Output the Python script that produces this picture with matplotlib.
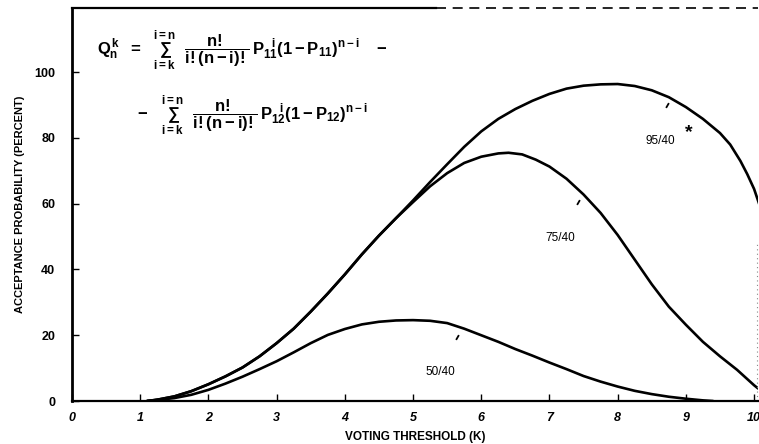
import matplotlib
matplotlib.use("Agg")
import matplotlib.pyplot as plt

plt.rcParams["font.family"] = ["Liberation Sans", "DejaVu Sans"]
plt.rcParams["mathtext.fontset"] = "custom"
plt.rcParams["mathtext.rm"] = "Liberation Sans:bold"
plt.rcParams["mathtext.it"] = "Liberation Sans:bold"
plt.rcParams["mathtext.bf"] = "Liberation Sans:bold"

# Acceptance probability (percent) versus voting threshold K
k_95 = [1.1, 1.25, 1.5, 1.75, 2.0, 2.25, 2.5, 2.75, 3.0, 3.25, 3.5, 3.75, 4.0,
        4.25, 4.5, 4.75, 5.0, 5.25, 5.5, 5.75, 6.0, 6.25, 6.5, 6.75, 7.0, 7.25,
        7.5, 7.75, 8.0, 8.25, 8.5, 8.75, 9.0, 9.25, 9.5, 9.65, 9.8, 9.9, 10.0, 10.09]
q_95 = [0.0, 0.4, 1.4, 3.0, 5.1, 7.5, 10.2, 13.6, 17.6, 22.0, 27.2, 32.7, 38.5,
        44.6, 50.3, 55.6, 61.0, 66.6, 72.0, 77.3, 82.0, 85.8, 88.8, 91.3, 93.4, 95.0,
        95.9, 96.3, 96.4, 95.8, 94.5, 92.4, 89.4, 85.8, 81.5, 78.0, 73.0, 69.0, 64.5, 59.0]

k_75 = [1.1, 1.25, 1.5, 1.75, 2.0, 2.25, 2.5, 2.75, 3.0, 3.25, 3.5, 3.75, 4.0,
        4.25, 4.5, 4.75, 5.0, 5.25, 5.5, 5.75, 6.0, 6.25, 6.4, 6.6, 6.8, 7.0,
        7.25, 7.5, 7.75, 8.0, 8.25, 8.5, 8.75, 9.0, 9.25, 9.5, 9.75, 10.0, 10.06]
q_75 = [0.0, 0.4, 1.4, 3.0, 5.1, 7.5, 10.2, 13.6, 17.6, 22.0, 27.2, 32.7, 38.5,
        44.6, 50.3, 55.6, 60.5, 65.3, 69.3, 72.4, 74.3, 75.3, 75.5, 75.0, 73.4, 71.3,
        67.6, 62.8, 57.2, 50.5, 43.0, 35.5, 28.7, 23.2, 18.0, 13.6, 9.5, 4.8, 3.8]

k_50 = [1.1, 1.25, 1.5, 1.75, 2.0, 2.25, 2.5, 2.75, 3.0, 3.25, 3.5, 3.75, 4.0,
        4.25, 4.5, 4.75, 5.0, 5.25, 5.5, 5.75, 6.0, 6.25, 6.5, 6.75, 7.0, 7.25,
        7.5, 7.75, 8.0, 8.25, 8.5, 8.75, 9.0, 9.25, 9.4]
q_50 = [0.0, 0.3, 0.9, 1.9, 3.4, 5.3, 7.4, 9.7, 12.1, 14.8, 17.6, 20.1, 21.9,
        23.3, 24.1, 24.5, 24.6, 24.4, 23.7, 22.0, 20.0, 18.0, 15.8, 13.8, 11.7, 9.7,
        7.6, 5.9, 4.4, 3.1, 2.1, 1.3, 0.7, 0.2, 0.0]

# Curve captions: text, text position, leader-stroke position
captions = ["95/40", "75/40", "50/40"]
caption_xy = [(8.62, 79.0), (7.16, 49.5), (5.40, 8.8)]
leader_xy = [(8.72, 90.0), (7.42, 60.5), (5.65, 19.5)]

x_ticks = list(range(0, 11))
y_ticks = [0, 20, 40, 60, 80, 100]

fig = plt.figure(figsize=(7.59, 4.44), dpi=100)
ax = fig.add_axes([0.0949, 0.0968, 0.904, 0.885])

for k, q in [(k_95, q_95), (k_75, q_75), (k_50, q_50)]:
    ax.plot(k, q, color="black", lw=1.9, solid_capstyle="round",
            solid_joinstyle="round")

ax.set_xlim(0, 10.06)
ax.set_ylim(0, 119.5)

# frame: heavy left/bottom axes, broken top rule, faint dotted right edge
for side in ("top", "right"):
    ax.spines[side].set_visible(False)
ax.spines["left"].set_linewidth(2.0)
ax.spines["bottom"].set_linewidth(1.6)
ax.plot([0, 0.53], [1, 1], transform=ax.transAxes, color="black", lw=1.6, clip_on=False)
ax.plot([0.53, 1.0], [1, 1], transform=ax.transAxes, color="black", lw=1.2,
        ls=(0, (6, 4)), clip_on=False)
ax.plot([0.998, 0.998], [0, 0.4], transform=ax.transAxes, color="#888888", lw=0.8,
        ls=(0, (1, 3)), clip_on=False)

ax.set_xticks(x_ticks)
ax.set_yticks(y_ticks)
ax.set_xticklabels([str(t) for t in x_ticks], fontsize=9, fontweight="bold", style="italic")
ax.set_yticklabels([str(t) for t in y_ticks], fontsize=9, fontweight="bold")
ax.tick_params(axis="both", direction="in", length=5, width=1.0, colors="black")
ax.tick_params(axis="x", pad=8)
ax.tick_params(axis="y", pad=12)

ax.set_xlabel("VOTING THRESHOLD (K)", fontsize=8.5, fontweight="bold", labelpad=5)
ax.set_ylabel("ACCEPTANCE PROBABILITY (PERCENT)", fontsize=8, fontweight="bold", labelpad=7)

# Formula block
line1 = (r"$Q_{n}^{k}\ \ =\ \ \sum_{i=k}^{i=n}\ \ \dfrac{n!}{i!(n-i)!}\,"
         r"P_{11}^{\ \ i}(1-P_{11})^{n-i}\ \ \ -$")
line2 = (r"$-\ \ \ \sum_{i=k}^{i=n}\ \ \dfrac{n!}{i!(n-i)!}\,"
         r"P_{12}^{\ \ i}(1-P_{12})^{n-i}$")
ax.text(0.036, 0.89, line1, transform=ax.transAxes, fontsize=12, va="center", ha="left")
ax.text(0.095, 0.725, line2, transform=ax.transAxes, fontsize=12, va="center", ha="left")

for text, (tx, ty), (lx, ly) in zip(captions, caption_xy, leader_xy):
    ax.text(tx, ty, text, fontsize=8.5, ha="center", va="center")
    ax.plot([lx], [ly], marker=(2, 0, -30), markersize=4, mew=1.3, color="black")
ax.text(caption_xy[0][0] + 0.42, caption_xy[0][1] + 2.6, "*", fontsize=14,
        fontweight="bold", ha="center", va="center")

fig.savefig("out.png", dpi=100)
